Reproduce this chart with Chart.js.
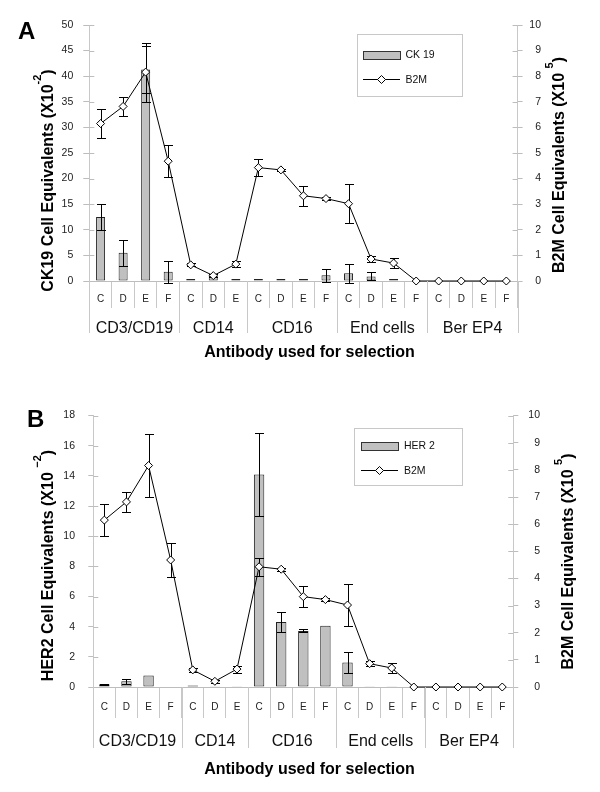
<!DOCTYPE html>
<html><head><meta charset="utf-8">
<script src="https://cdn.jsdelivr.net/npm/chart.js@4.4.1/dist/chart.umd.min.js"></script>
<style>
html,body{margin:0;padding:0;background:#fff;}
.wrap{position:relative;width:600px;height:396px;}
canvas{display:block;}
</style></head><body>
<div class="wrap"><canvas id="cA" width="600" height="396"></canvas></div>
<div class="wrap"><canvas id="cB" width="600" height="396"></canvas></div>
<script>
const FONT = '"Liberation Sans", Arial, Helvetica, sans-serif';

// ---- data ----
const categories = ['C','D','E','F','C','D','E','C','D','E','F','C','D','E','F','C','D','E','F'];
const groupLabels = ['CD3/CD19','CD14','CD16','End cells','Ber EP4'];
const groupSizes = [4,3,4,4,4];

const ck19    = [12.5, 5.5, 41.3, 1.8, 0.4, 1.0, 0.4, 0.4, 0.4, 0.4, 1.1, 1.5, 0.9, 0.4, 0, 0, 0, 0, 0];
const ck19Err = [2.5, 2.5, 4.6, 2.2, 0, 0, 0, 0, 0, 0, 1.2, 1.8, 0.8, 0, 0, 0, 0, 0, 0];

const her2    = [0.18, 0.38, 0.77, 0, 0.1, 0.05, 0.05, 14.1, 4.31, 3.72, 4.06, 1.62, 0.05, 0.05, 0, 0, 0, 0, 0];
const her2Err = [0.05, 0.15, 0, 0, 0, 0, 0, 2.75, 0.68, 0.1, 0, 0.67, 0, 0, 0, 0, 0, 0, 0];

const b2m    = [6.15, 6.82, 8.16, 4.68, 0.63, 0.21, 0.66, 4.43, 4.34, 3.33, 3.22, 3.02, 0.86, 0.70, 0, 0, 0, 0, 0];
const b2mErr = [0.58, 0.37, 1.15, 0.63, 0.06, 0.05, 0.13, 0.33, 0.05, 0.40, 0.05, 0.76, 0.10, 0.20, 0, 0, 0, 0, 0];

const leftTicksA = {min:0, max:50, step:5};
const leftTicksB = {min:0, max:18, step:2};
const rightTicks = {min:0, max:10, step:1};

// ---- helpers ----
function drawErr(chart, idx, type){
  const ds = chart.data.datasets[idx];
  if (ds.type !== type || !ds.errors) return;
  const meta = chart.getDatasetMeta(idx);
  const ys = chart.scales[ds.yAxisID];
  const ctx = chart.ctx;
  ctx.save(); ctx.strokeStyle = '#000'; ctx.lineWidth = 1;
  ds.data.forEach((v,i)=>{
    const e = ds.errors[i]; if (!e) return;
    const x = Math.round(meta.data[i].x) + 0.5;
    const y1 = Math.round(ys.getPixelForValue(v+e)) + 0.5;
    const y2 = Math.round(ys.getPixelForValue(v-e)) + 0.5;
    ctx.beginPath();
    ctx.moveTo(x,y1); ctx.lineTo(x,y2);
    ctx.moveTo(x-4.5,y1); ctx.lineTo(x+4.5,y1);
    ctx.moveTo(x-4.5,y2); ctx.lineTo(x+4.5,y2);
    ctx.stroke();
  });
  ctx.restore();
}
function drawVTitle(ctx, baseX, centerY, parts){
  ctx.save();
  let total = 0;
  parts.forEach(p=>{ ctx.font = 'bold '+p.size+'px '+FONT; p.w = ctx.measureText(p.t).width; total += p.w; });
  ctx.translate(baseX, centerY + total/2);
  ctx.rotate(-Math.PI/2);
  ctx.fillStyle = '#000'; ctx.textBaseline = 'alphabetic'; ctx.textAlign = 'left';
  let x = 0;
  parts.forEach(p=>{ ctx.font = 'bold '+p.size+'px '+FONT; ctx.fillText(p.t, x, -p.rise); x += p.w; });
  ctx.restore();
}
function diamond(ctx, x, y, r){
  ctx.beginPath();
  ctx.moveTo(x, y-r); ctx.lineTo(x+r, y); ctx.lineTo(x, y+r); ctx.lineTo(x-r, y); ctx.closePath();
  ctx.fillStyle = '#fff'; ctx.fill(); ctx.strokeStyle = '#000'; ctx.lineWidth = 1; ctx.stroke();
}

const errPlugin = {
  id: 'errbars',
  afterDatasetDraw(chart, args){ drawErr(chart, args.index, 'bar'); },
  beforeDatasetDraw(chart, args){ drawErr(chart, args.index, 'line'); }
};

const decor = {
  id: 'decor',
  beforeDatasetsDraw(chart, args, o){
    const ctx = chart.ctx; ctx.save(); ctx.strokeStyle = '#bdbdbd'; ctx.lineWidth = 1;
    ['yL','yR'].forEach(id=>{
      const s = chart.scales[id];
      const dir = id === 'yL' ? 1 : -1;
      const x0 = id === 'yL' ? s.right : s.left;
      s.ticks.forEach(t=>{
        const y = Math.round(s.getPixelForValue(t.value)) + 0.5;
        ctx.beginPath(); ctx.moveTo(x0, y); ctx.lineTo(x0 + dir*o.innerTick, y); ctx.stroke();
      });
    });
    ctx.restore();
  },
  afterDraw(chart, args, o){
    const ctx = chart.ctx, xs = chart.scales.x;
    const half = (xs.getPixelForValue(1) - xs.getPixelForValue(0)) / 2;
    const bounds = [0]; let acc = 0;
    groupSizes.forEach(n=>{ acc += n; bounds.push(acc); });
    ctx.save();
    ctx.strokeStyle = '#c8c8c8'; ctx.lineWidth = 1;
    bounds.forEach(b=>{
      const x = Math.round(xs.getPixelForValue(b) - half) + 0.5;
      ctx.beginPath(); ctx.moveTo(x, xs.top); ctx.lineTo(x, o.groupLineEnd); ctx.stroke();
    });
    ctx.font = '16px ' + FONT; ctx.fillStyle = '#111'; ctx.textAlign = 'center'; ctx.textBaseline = 'alphabetic';
    groupLabels.forEach((g,k)=>{
      const x = (xs.getPixelForValue(bounds[k]) + xs.getPixelForValue(bounds[k+1]))/2 - half;
      ctx.fillText(g, x, o.groupY);
    });
    // x title
    ctx.font = 'bold 16px ' + FONT; ctx.fillStyle = '#000';
    ctx.fillText('Antibody used for selection', o.xTitleX, o.xTitleY);
    // panel letter
    ctx.font = 'bold 24px ' + FONT; ctx.textAlign = 'left';
    ctx.fillText(o.panel, o.panelX, o.panelY);
    ctx.restore();
    // axis titles
    drawVTitle(ctx, o.lTitleX, o.lTitleY, o.lTitle);
    drawVTitle(ctx, o.rTitleX, o.rTitleY, o.rTitle);
    // legend
    const L = o.legend;
    ctx.save();
    ctx.strokeStyle = '#c8c8c8'; ctx.lineWidth = 1;
    ctx.strokeRect(L.x+0.5, L.y+0.5, L.w, L.h);
    ctx.fillStyle = '#c0c0c0'; ctx.fillRect(L.sx+0.5, L.barY+0.5, 37, 8);
    ctx.strokeStyle = '#333'; ctx.strokeRect(L.sx+0.5, L.barY+0.5, 37, 8);
    ctx.strokeStyle = '#000';
    ctx.beginPath(); ctx.moveTo(L.sx, L.lineY+0.5); ctx.lineTo(L.sx+37, L.lineY+0.5); ctx.stroke();
    diamond(ctx, L.sx+18.5, L.lineY+0.5, 4);
    ctx.fillStyle = '#111'; ctx.font = '10.5px ' + FONT; ctx.textAlign = 'left'; ctx.textBaseline = 'middle';
    ctx.fillText(L.barText, L.tx, L.barY + 4.5);
    ctx.fillText('B2M', L.tx, L.lineY + 1);
    ctx.restore();
  }
};

function makeChart(id, g){
  return new Chart(document.getElementById(id), {
    type: 'bar',
    data: {
      labels: categories,
      datasets: [
        { type:'line', label:'B2M', data: b2m, errors: b2mErr, yAxisID:'yR', order:0,
          borderColor:'#000', borderWidth:1, tension:0, fill:false, clip:false,
          pointStyle:'rectRot', pointRadius:4, pointBackgroundColor:'#fff',
          pointBorderColor:'#000', pointBorderWidth:1 },
        { type:'bar', label:g.barLabel, data:g.bars, errors:g.barErr, yAxisID:'yL', order:1,
          backgroundColor:'#c0c0c0', borderColor:'#222', borderWidth:1, borderSkipped:false,
          categoryPercentage:1, barPercentage:g.barPct }
      ]
    },
    options: {
      responsive:false, animation:false, devicePixelRatio:1,
      layout:{ padding:{ left:0, right:g.padRight, top:g.top, bottom:0 } },
      plugins:{ legend:{display:false}, tooltip:{enabled:false}, decor:g.decor },
      scales:{
        x:{ type:'category', offset:true,
            grid:{ display:true, offset:true, drawOnChartArea:false, drawTicks:true, tickLength:g.catLine, color:'#c8c8c8' },
            border:{ display:true, color:'#bdbdbd' },
            ticks:{ font:{size:10, family:FONT}, color:'#222', padding:g.catPad, maxRotation:0, autoSkip:false },
            afterFit(s){ s.height = g.xHeight; } },
        yL:{ type:'linear', position:'left', min:g.left.min, max:g.left.max,
             ticks:{ stepSize:g.left.step, font:{size:10.5, family:FONT}, color:'#222', padding:g.lPad },
             grid:{ drawOnChartArea:false, tickLength:g.lTick, color:'#bdbdbd' },
             border:{ color:'#c8c8c8' },
             afterFit(s){ s.width = g.lWidth; } },
        yR:{ type:'linear', position:'right', min:rightTicks.min, max:rightTicks.max,
             ticks:{ stepSize:rightTicks.step, font:{size:10.5, family:FONT}, color:'#222', crossAlign:'far', padding:4 },
             grid:{ drawOnChartArea:false, tickLength:5, color:'#bdbdbd' },
             border:{ color:'#c8c8c8' },
             afterFit(s){ s.width = g.rWidth; } }
      }
    },
    plugins:[errPlugin, decor]
  });
}

makeChart('cA', {
  barLabel:'CK 19', bars:ck19, barErr:ck19Err, barPct:0.4, left:leftTicksA,
  top:25, padRight:59, xHeight:115, lWidth:89.3, rWidth:23.4, lPad:10, lTick:6,
  catLine:27, catPad:-15,
  decor:{ innerTick:5, groupLineEnd:333, groupY:333, xTitleX:309.5, xTitleY:357,
    panel:'A', panelX:18, panelY:39,
    lTitleX:52.5, lTitleY:180.5, rTitleX:564, rTitleY:165,
    lTitle:[{t:'CK19 Cell Equivalents (X10',size:16,rise:0},{t:'-2',size:11,rise:12},{t:')',size:16,rise:0}],
    rTitle:[{t:'B2M Cell Equivalents (X10 ',size:16,rise:0},{t:'5',size:11,rise:11},{t:')',size:16,rise:0}],
    legend:{ x:357, y:34, w:105, h:62, sx:363, barY:51, lineY:79, tx:405.5, barText:'CK 19' } }
});

makeChart('cB', {
  barLabel:'HER 2', bars:her2, barErr:her2Err, barPct:0.47, left:leftTicksB,
  top:9, padRight:60, xHeight:105, lWidth:93.3, rWidth:26.7, lPad:13.3, lTick:5,
  catLine:31, catPad:-16.4,
  decor:{ innerTick:5, groupLineEnd:352, groupY:350, xTitleX:309.5, xTitleY:378,
    panel:'B', panelX:27, panelY:31,
    lTitleX:52.5, lTitleY:169.5, rTitleX:573, rTitleY:165.5,
    lTitle:[{t:'HER2 Cell Equivalents (X10 ',size:16,rise:0},{t:'\u22122',size:11,rise:12},{t:')',size:16,rise:0}],
    rTitle:[{t:'B2M Cell Equivalents (X10 ',size:16,rise:0},{t:'5',size:11,rise:11},{t:')',size:16,rise:0}],
    legend:{ x:354, y:32, w:108, h:57, sx:361, barY:46, lineY:74, tx:404, barText:'HER 2' } }
});
</script>
</body></html>
